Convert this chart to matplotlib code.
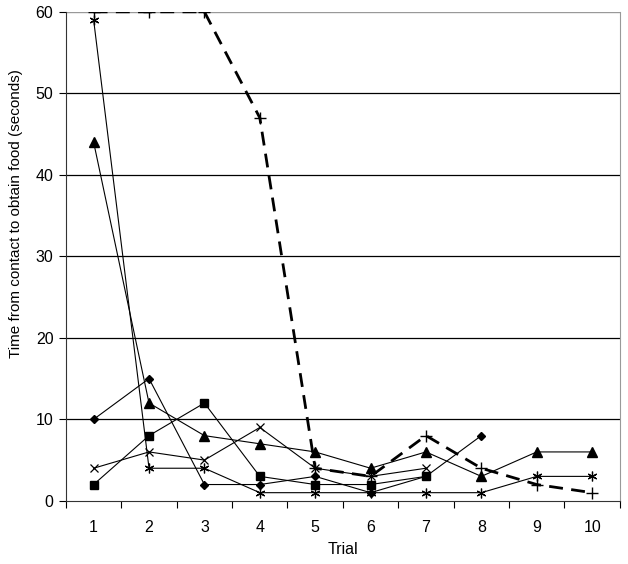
import matplotlib.pyplot as plt

# Time to obtain food per trial, one list per animal
trials = [1, 2, 3, 4, 5, 6, 7, 8, 9, 10]
diamond = [10, 15, 2, 2, 3, 1, 3, 8]
square = [2, 8, 12, 3, 2, 2, 3]
triangle = [44, 12, 8, 7, 6, 4, 6, 3, 6, 6]
cross = [4, 6, 5, 9, 4, 3, 4]
star = [59, 4, 4, 1, 1, 1, 1, 1, 3, 3]
plus_dashed = [60, 60, 60, 47, 4, 3, 8, 4, 2, 1]

plt.rcParams['font.family'] = ['Liberation Sans', 'DejaVu Sans']

fig = plt.figure(figsize=(6.28, 5.64), dpi=100)
ax = fig.add_axes([0.105, 0.112, 0.882, 0.867])

for y in [10, 20, 30, 40, 50]:
    ax.axhline(y, color='black', lw=0.9, zorder=0)
ax.axhline(60, color='#999999', lw=1.0, zorder=0)

ax.plot(trials[:len(diamond)], diamond, color='black', lw=0.8, marker='D', ms=4.5)
ax.plot(trials[:len(square)], square, color='black', lw=0.8, marker='s', ms=6)
ax.plot(trials[:len(triangle)], triangle, color='black', lw=0.8, marker='^', ms=6.5)
ax.plot(trials[:len(cross)], cross, color='black', lw=0.8, marker='x', ms=6, mew=0.9)
ax.plot(trials[:len(star)], star, color='black', lw=0.8, marker=(6, 2, 0), ms=7, mew=0.9)
ax.plot(trials, plus_dashed, color='black', lw=2, ls=(0, (5, 3)), marker='+', ms=9, mew=1)

ax.set_xlim(0.5, 10.5)
ax.set_ylim(0, 60)
ax.set_yticks([0, 10, 20, 30, 40, 50, 60])
ax.set_xticks([t + 0.5 for t in [0] + trials])
ax.set_xticklabels([])
ax.set_xticks(trials, minor=True)
ax.set_xticklabels([str(t) for t in trials], minor=True)
ax.tick_params(axis='x', which='minor', length=0, pad=14, labelsize=11.5)
ax.tick_params(axis='x', which='major', length=5, direction='out', color='black')
ax.tick_params(axis='y', length=5, direction='out', labelsize=11.5, pad=4)

ax.spines['top'].set_visible(False)
ax.spines['right'].set_color('#999999')
ax.spines['left'].set_color('#333333')
ax.spines['bottom'].set_color('#333333')

ax.set_xlabel('Trial', fontsize=11.5)
ax.xaxis.set_label_coords(0.5, -0.085)
ax.set_ylabel('Time from contact to obtain food (seconds)', fontsize=11)
ax.yaxis.set_label_coords(-0.078, 0.587)

fig.savefig('out.png', dpi=100)
